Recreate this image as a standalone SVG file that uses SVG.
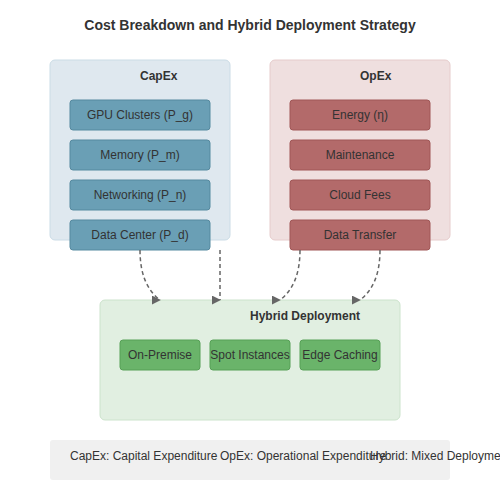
<svg xmlns="http://www.w3.org/2000/svg" width="500" height="500" viewBox="0 0 500 500">
<defs>
<style>
text{font-family:"Liberation Sans",Arial,sans-serif;fill:#333}
.title{font-size:14px;font-weight:bold}
.head{font-size:12px;font-weight:bold}
.lbl{font-size:12px;text-anchor:middle}
.leg{font-size:12px}
.capc{fill:#dfe8ef;stroke:#cbdce6;stroke-width:1}
.opc{fill:#efdfdf;stroke:#e6cccc;stroke-width:1}
.hyc{fill:#e1efe1;stroke:#cce3cc;stroke-width:1}
.cap{fill:#6a9fb5;stroke:#55899f;stroke-width:1}
.op{fill:#b36a6a;stroke:#a05656;stroke-width:1}
.hy{fill:#6ab46a;stroke:#56a056;stroke-width:1}
.conn{fill:none;stroke:#666;stroke-width:1.5;stroke-dasharray:4,3}
</style>
<marker id="arr" viewBox="0 0 10 10" refX="9" refY="5" markerWidth="6" markerHeight="6">
<path d="M0,0 L10,5 L0,10 z" fill="#666"/>
</marker>
</defs>
<rect width="500" height="500" fill="#fff"/>
<text class="title" x="250" y="30" text-anchor="middle">Cost Breakdown and Hybrid Deployment Strategy</text>

<g id="capex">
<rect class="capc" x="50" y="60" width="180" height="180" rx="5"/>
<text class="head" x="140" y="80">CapEx</text>
</g>
<g id="gpu"><rect class="cap" x="70" y="100" width="140" height="30" rx="3"/><text class="lbl" x="140" y="119">GPU Clusters (P_g)</text></g>
<g id="memory"><rect class="cap" x="70" y="140" width="140" height="30" rx="3"/><text class="lbl" x="140" y="159">Memory (P_m)</text></g>
<g id="networking"><rect class="cap" x="70" y="180" width="140" height="30" rx="3"/><text class="lbl" x="140" y="199">Networking (P_n)</text></g>
<g id="datacenter"><rect class="cap" x="70" y="220" width="140" height="30" rx="3"/><text class="lbl" x="140" y="239">Data Center (P_d)</text></g>

<g id="opex">
<rect class="opc" x="270" y="60" width="180" height="180" rx="5"/>
<text class="head" x="360" y="80">OpEx</text>
</g>
<g id="energy"><rect class="op" x="290" y="100" width="140" height="30" rx="3"/><text class="lbl" x="360" y="119">Energy (η)</text></g>
<g id="maintenance"><rect class="op" x="290" y="140" width="140" height="30" rx="3"/><text class="lbl" x="360" y="159">Maintenance</text></g>
<g id="cloudfees"><rect class="op" x="290" y="180" width="140" height="30" rx="3"/><text class="lbl" x="360" y="199">Cloud Fees</text></g>
<g id="datatransfer"><rect class="op" x="290" y="220" width="140" height="30" rx="3"/><text class="lbl" x="360" y="239">Data Transfer</text></g>

<g id="hybrid">
<rect class="hyc" x="100" y="300" width="300" height="120" rx="5"/>
<text class="head" x="250" y="320">Hybrid Deployment</text>
</g>
<g id="onpremise"><rect class="hy" x="120" y="340" width="80" height="30" rx="3"/><text class="lbl" x="160" y="359">On-Premise</text></g>
<g id="spot"><rect class="hy" x="210" y="340" width="80" height="30" rx="3"/><text class="lbl" x="250" y="359">Spot Instances</text></g>
<g id="edge"><rect class="hy" x="300" y="340" width="80" height="30" rx="3"/><text class="lbl" x="340" y="359">Edge Caching</text></g>

<g id="connectors">
<path class="conn" d="M140,250 Q140,285 160,300" marker-end="url(#arr)"/>
<path class="conn" d="M220,250 L220,300" marker-end="url(#arr)"/>
<path class="conn" d="M300,250 Q300,285 280,300" marker-end="url(#arr)"/>
<path class="conn" d="M380,250 Q380,285 360,300" marker-end="url(#arr)"/>
</g>

<g id="legend">
<rect x="50" y="440" width="400" height="40" rx="3" fill="#f0f0f0"/>
<text class="leg" x="70" y="460">CapEx: Capital Expenditure</text>
<text class="leg" x="220" y="460">OpEx: Operational Expenditure</text>
<text class="leg" x="370" y="460">Hybrid: Mixed Deployment</text>
</g>
</svg>
